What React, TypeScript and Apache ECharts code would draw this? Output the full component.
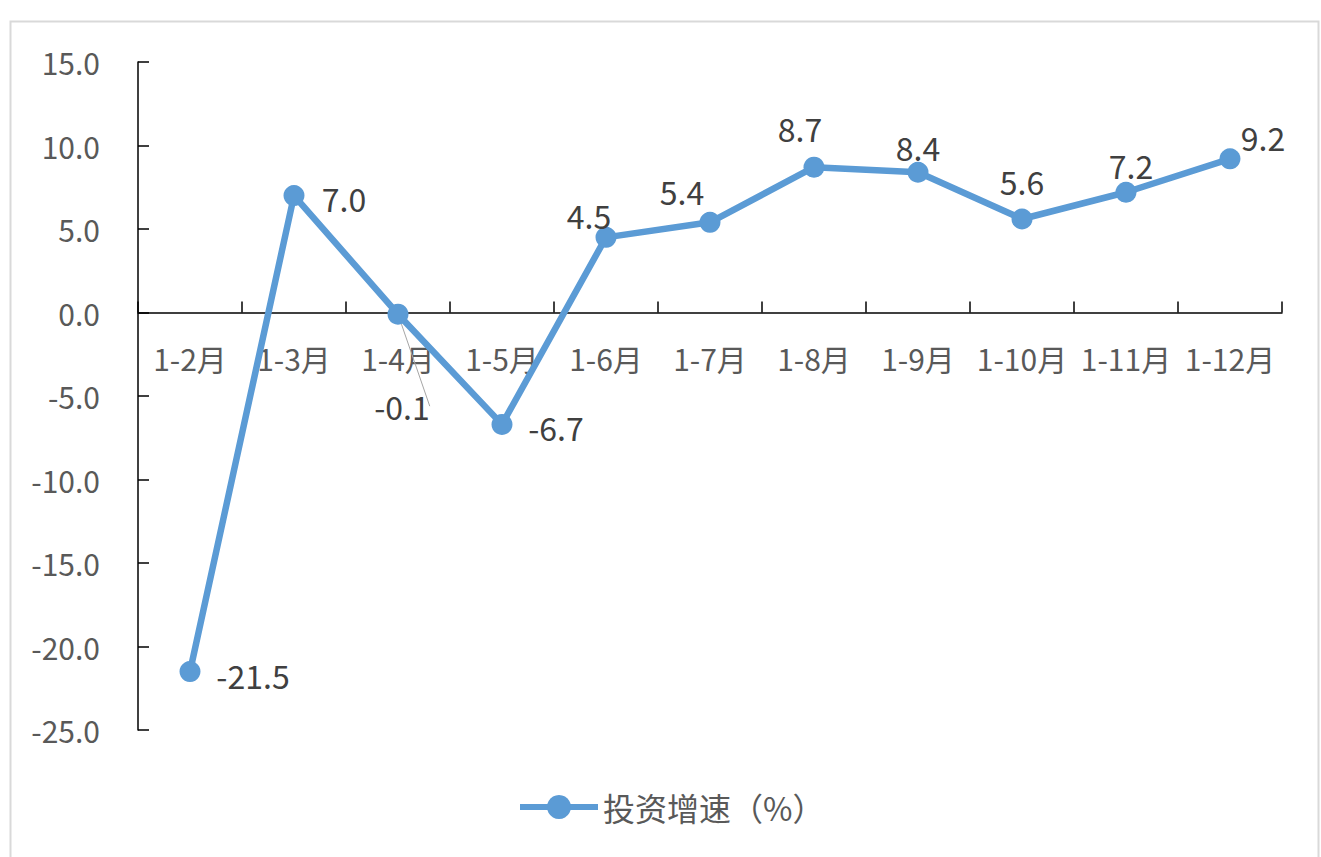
import React, { useEffect, useRef } from "react";
import * as echarts from "echarts";

const categories = ["1-2月", "1-3月", "1-4月", "1-5月", "1-6月", "1-7月", "1-8月", "1-9月", "1-10月", "1-11月", "1-12月"];
const growth = [-21.5, 7.0, -0.1, -6.7, 4.5, 5.4, 8.7, 8.4, 5.6, 7.2, 9.2];
const seriesName = "投资增速（%）";
const yTicks = { min: -25, max: 15, interval: 5 };

// label offsets relative to the point (style only)
const labelOffsets: [number, number][] = [
  [63, 3], [50, 2], [4, 92], [54, 3], [-17, -22], [-28, -31],
  [-14, -39], [0, -25], [0, -38], [5, -27], [33, -22],
];

const FONT = "'Noto Sans CJK SC', 'Noto Sans', sans-serif";
const BLUE = "#5B9BD5";
const GRID_TOP = 62;
const GRID_BOTTOM = 127;
const H = 857;

export default function App() {
  const ref = useRef<HTMLDivElement>(null);
  useEffect(() => {
    if (!ref.current) return;
    const chart = echarts.init(ref.current, undefined, { renderer: "svg" });
    const plotH = H - GRID_TOP - GRID_BOTTOM;
    const zeroFromBottom = (0 - yTicks.min) / (yTicks.max - yTicks.min) * plotH;
    const data = growth.map((v, i) => ({
      value: v,
      label: {
        show: true,
        position: "inside",
        offset: labelOffsets[i],
        formatter: (p: any) => Number(p.value).toFixed(1),
      },
      ...(i === 2
        ? { labelLine: { show: true, lineStyle: { color: "#a6a6a6", width: 1 } } }
        : {}),
    }));
    chart.setOption({
      animation: false,
      backgroundColor: "#fff",
      textStyle: { fontFamily: FONT },
      graphic: [
        {
          type: "rect",
          left: 8,
          top: 19,
          shape: { x: 0, y: 0, width: 1308, height: 860 },
          style: { fill: "none", stroke: "#d9d9d9", lineWidth: 2 },
          silent: true,
        },
      ],
      grid: { left: 138, right: 39, top: GRID_TOP, bottom: GRID_BOTTOM, containLabel: false },
      legend: {
        top: 786,
        left: 512,
        data: [seriesName],
        itemWidth: 78,
        itemHeight: 30,
        itemGap: 10,
        lineStyle: { width: 6 },
        textStyle: { fontSize: 32, color: "#595959", fontFamily: FONT },
      },
      xAxis: {
        type: "category",
        data: categories,
        boundaryGap: true,
        position: "bottom",
        offset: -zeroFromBottom,
        axisLine: { show: true, onZero: false, lineStyle: { color: "#000", width: 1.5 } },
        axisTick: { show: true, inside: true, length: 11, lineStyle: { color: "#000", width: 1.5 } },
        axisLabel: { margin: 30, fontSize: 30, color: "#595959", fontFamily: FONT, interval: 0 },
      },
      yAxis: {
        type: "value",
        min: yTicks.min,
        max: yTicks.max,
        interval: yTicks.interval,
        axisLine: { show: true, lineStyle: { color: "#000", width: 1.5 } },
        axisTick: { show: true, inside: true, length: 11, lineStyle: { color: "#000", width: 1.5 } },
        splitLine: { show: false },
        axisLabel: {
          margin: 38,
          fontSize: 30,
          color: "#595959",
          fontFamily: FONT,
          formatter: (v: number) => v.toFixed(1),
        },
      },
      series: [
        {
          name: seriesName,
          type: "line",
          data,
          symbol: "circle",
          symbolSize: 21,
          lineStyle: { color: BLUE, width: 6.5 },
          itemStyle: { color: BLUE },
          label: { fontSize: 32, color: "#404040", fontFamily: FONT },
        },
      ],
    });
    return () => chart.dispose();
  }, []);
  return (
    <div
      ref={ref}
      style={{ position: "fixed", left: 0, top: 0, width: 1321, height: 857, background: "#fff" }}
    />
  );
}
